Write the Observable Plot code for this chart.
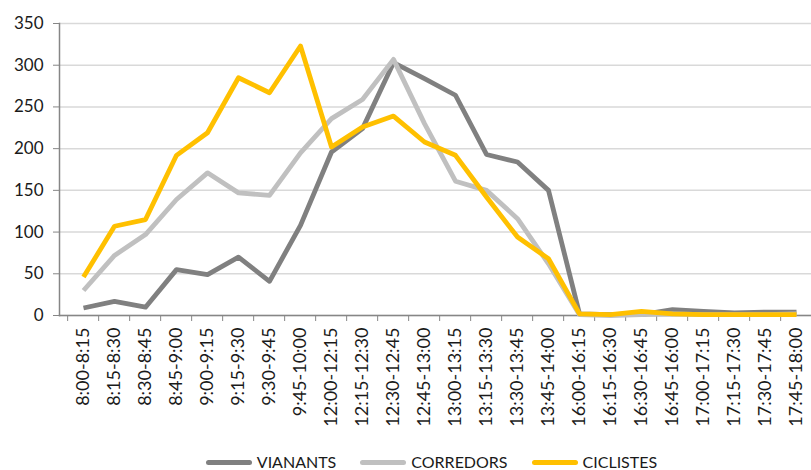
<!DOCTYPE html>
<html>
<head>
<meta charset="utf-8">
<script src="https://cdn.jsdelivr.net/npm/d3@7"></script>
<script src="https://cdn.jsdelivr.net/npm/@observablehq/plot@0.6"></script>
<style>
  html, body { margin: 0; padding: 0; background: #fff; overflow: hidden; }
  #wrap { position: relative; width: 811px; height: 470px; overflow: hidden; font-family: Lato, "Open Sans", sans-serif; }
  #legend { display: flex; justify-content: center; align-items: center; gap: 24px; padding-left: 52px; padding-top: 14px; height: 16px; font-size: 16px; color: #1a1a1a; }
  .item { display: flex; align-items: center; gap: 5px; line-height: 20px; }
  .sw { width: 46px; height: 5px; border-radius: 3px; }
</style>
</head>
<body>
<div id="wrap"></div>
<script>
const categories = ["8:00-8:15","8:15-8:30","8:30-8:45","8:45-9:00","9:00-9:15","9:15-9:30","9:30-9:45","9:45-10:00",
  "12:00-12:15","12:15-12:30","12:30-12:45","12:45-13:00","13:00-13:15","13:15-13:30","13:30-13:45","13:45-14:00",
  "16:00-16:15","16:15-16:30","16:30-16:45","16:45-16:00","17:00-17:15","17:15-17:30","17:30-17:45","17:45-18:00"];
const seriesNames = ["VIANANTS", "CORREDORS", "CICLISTES"];
const seriesColors = ["#808080", "#c0c0c0", "#ffc000"];
const vianants  = [9,17,10,55,49,70,41,108,196,224,303,284,264,193,184,150,2,1,1,7,5,3,4,4];
const corredors = [30,72,97,139,171,147,144,195,236,259,307,230,161,150,116,62,1,0,1,2,1,1,1,2];
const ciclistes = [46,107,115,192,219,285,267,323,202,226,239,208,192,142,94,68,2,1,5,2,1,1,1,1];
const yTicks = [0,50,100,150,200,250,300,350];

const seriesValues = [vianants, corredors, ciclistes];
const data = [];
seriesNames.forEach((s, k) => categories.forEach((c, i) => data.push({series: s, cat: c, value: seriesValues[k][i]})));

const W = 811, H = 440;
const xRange = [59, 820];
const step = (xRange[1] - xRange[0]) / categories.length;
const font = "Lato, 'Open Sans', sans-serif";

const chart = Plot.plot({
  width: W,
  height: H,
  marginLeft: 59,
  marginRight: 0,
  marginTop: 23,
  marginBottom: 125,
  style: {fontFamily: font, fontSize: "17px", color: "#1a1a1a", background: "#fff"},
  x: {type: "point", domain: categories, range: xRange, padding: 0.5},
  y: {domain: [0, 350]},
  color: {domain: seriesNames, range: seriesColors},
  marks: [
    Plot.gridY(yTicks, {stroke: "#d9d9d9", strokeOpacity: 1, strokeWidth: 1.5}),
    Plot.frame({anchor: "left", stroke: "#868686", strokeWidth: 1.5}),
    Plot.frame({anchor: "bottom", stroke: "#868686", strokeWidth: 1.5}),
    Plot.axisY({ticks: yTicks, tickSize: 6, tickPadding: 10, stroke: "#868686", label: null, fontSize: 17}),
    Plot.axisX({ticks: categories, tickSize: 6, tickFormat: () => "", dx: -step / 2, stroke: "#868686", label: null}),
    Plot.axisX({ticks: categories, tickSize: 0, tickPadding: 12, tickRotate: -90, label: null, fontSize: 18}),
    Plot.line(data, {x: "cat", y: "value", z: "series", stroke: "series", strokeWidth: 4.8, strokeLinejoin: "round", strokeLinecap: "butt"})
  ]
});

const wrap = document.getElementById("wrap");
wrap.appendChild(chart);
const legend = document.createElement("div");
legend.id = "legend";
seriesNames.forEach((s, k) => {
  const it = document.createElement("div");
  it.className = "item";
  const sw = document.createElement("span");
  sw.className = "sw";
  sw.style.background = seriesColors[k];
  const lb = document.createElement("span");
  lb.textContent = s;
  it.appendChild(sw); it.appendChild(lb);
  legend.appendChild(it);
});
wrap.appendChild(legend);
</script>
</body>
</html>
